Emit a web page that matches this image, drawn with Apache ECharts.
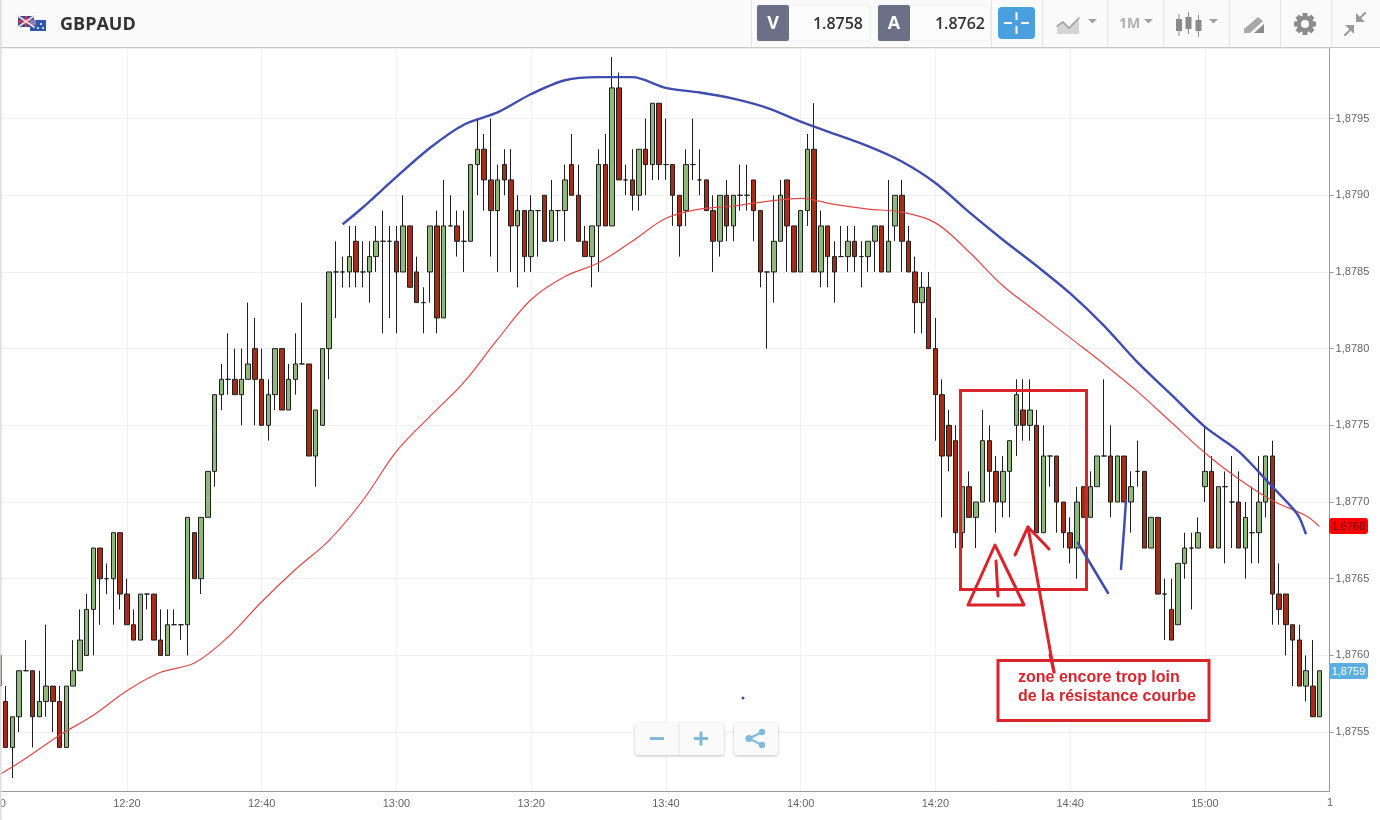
<!DOCTYPE html>
<html><head><meta charset="utf-8"><title>GBPAUD</title>
<style>html,body{margin:0;padding:0;background:#fff}#c{width:1380px;height:820px}</style>
<script src="https://cdn.jsdelivr.net/npm/echarts@6/dist/echarts.min.js"></script></head>
<body><div id="c"></div><script>
// prices below are written as points: 8760 means 1.8760. Index 0 is 12:00, one candle per minute.
const opens=[null,8760,8757,8754,8756,8759,8759,8756,8757,8758,8757,8754,8758,8759,8760,8763,8767,8765,8765,8768,
8764,8762,8761,8764,8764,8761,8760,8762,8762,8762,8768,8765,8769,8772,8777,8778,8778,8777,8778,8780,
8778,8775,8777,8780,8776,8778,8779,8779,8773,8775,8780,8785,8785,8785,8787,8785,8785,8786,8787,8787,
8787,8785,8788,8785,8783,8785,8788,8782,8788,8788,8787,8787,8792,8793,8791,8789,8792,8791,8788,8789,
8786,8789,8790,8787,8789,8789,8792,8790,8787,8786,8788,8792,8788,8797,8791,8791,8790,8793,8792,8796,
8792,8792,8790,8789,8792,8791,8791,8789,8787,8790,8788,8790,8790,8791,8789,8785,8785,8787,8791,8788,
8785,8789,8793,8785,8788,8786,8786,8786,8787,8786,8786,8787,8788,8785,8788,8790,8787,8785,8783,8784,
8780,8777,8775,8774,8768,8771,8769,8770,8774,8772,8770,8772,8775,8776,8775,8775,8768,8773,8773,8770,
8768,8767,8771,8769,8771,8773,8773,8770,8773,8770,8772,8772,8767,8769,8764,8763,8762,8766,8767,8767,
8771,8772,8767,8771,8770,8770,8767,8768,8768,8770,8773,8764,8764,8762,8761,8758,8758,8756];
const closes=[null,8758,8754,8756,8759,8759,8756,8757,8758,8757,8754,8758,8759,8761,8763,8767,8765,8765,8768,8764,
8762,8761,8764,8764,8761,8760,8762,8762,8762,8769,8765,8769,8772,8777,8778,8778,8777,8778,8779,8778,
8775,8777,8780,8776,8778,8779,8779,8773,8776,8780,8785,8785,8785,8786,8785,8785,8786,8787,8787,8787,
8785,8788,8784,8783,8783,8788,8782,8788,8788,8787,8787,8792,8793,8791,8789,8791,8791,8788,8789,8786,
8789,8789,8787,8789,8789,8791,8790,8787,8786,8788,8792,8788,8797,8791,8791,8790,8793,8792,8796,8792,
8792,8790,8788,8792,8792,8791,8789,8787,8790,8788,8790,8790,8790,8789,8785,8785,8787,8790,8788,8785,
8789,8793,8785,8788,8786,8785,8786,8787,8786,8786,8787,8788,8785,8787,8790,8787,8785,8783,8784,8780,
8777,8773,8773,8768,8771,8769,8770,8774,8772,8770,8772,8774,8777,8775,8776,8768,8773,8773,8770,8768,
8767,8770,8769,8771,8773,8773,8770,8773,8770,8771,8772,8767,8769,8764,8764,8761,8766,8767,8767,8768,
8772,8767,8771,8771,8770,8767,8769,8768,8770,8773,8764,8763,8762,8761,8758,8759,8756,8759];
const lows=[null,8758,8754,8752,8755,8759,8754,8756,8756,8755,8754,8754,8758,8759,8760,8760,8762,8764,8762,8763,
8762,8761,8761,8763,8761,8760,8760,8762,8761,8760,8765,8764,8769,8771,8776,8777,8777,8775,8778,8775,
8775,8774,8776,8776,8776,8777,8779,8773,8771,8775,8778,8782,8784,8784,8784,8784,8783,8785,8781,8782,
8781,8785,8784,8783,8781,8783,8781,8782,8788,8786,8785,8787,8790,8789,8786,8785,8790,8785,8784,8785,
8785,8786,8787,8787,8787,8787,8790,8787,8786,8784,8785,8788,8788,8791,8790,8789,8789,8790,8791,8791,
8791,8788,8786,8788,8791,8790,8789,8785,8786,8787,8787,8789,8789,8787,8784,8780,8783,8787,8785,8785,
8785,8788,8785,8784,8784,8783,8786,8785,8785,8784,8785,8785,8785,8785,8787,8785,8785,8781,8781,8780,
8774,8769,8772,8767,8767,8769,8767,8770,8770,8768,8769,8769,8773,8774,8774,8768,8768,8771,8768,8767,
8766,8765,8769,8769,8771,8773,8769,8770,8770,8768,8771,8767,8767,8764,8761,8761,8762,8765,8763,8767,
8770,8767,8767,8766,8767,8767,8765,8766,8766,8769,8762,8762,8760,8758,8758,8757,8756,8756];
const highs=[null,8760,8758,8756,8759,8761,8759,8759,8762,8758,8758,8758,8761,8763,8764,8767,8767,8766,8768,8768,
8765,8763,8764,8764,8764,8763,8763,8763,8762,8769,8768,8769,8772,8777,8779,8781,8780,8780,8783,8782,
8780,8778,8780,8780,8779,8781,8783,8779,8776,8780,8785,8787,8786,8788,8788,8787,8787,8788,8789,8788,
8788,8790,8788,8786,8784,8788,8789,8791,8790,8789,8789,8792,8795,8794,8795,8792,8793,8793,8790,8789,
8790,8789,8790,8791,8789,8792,8794,8792,8788,8788,8793,8794,8799,8798,8792,8793,8793,8795,8796,8796,
8795,8792,8790,8793,8795,8793,8791,8790,8790,8791,8790,8792,8792,8791,8789,8785,8790,8791,8791,8788,
8789,8794,8796,8789,8788,8787,8788,8788,8788,8787,8787,8788,8788,8791,8790,8791,8788,8786,8785,8785,
8782,8778,8776,8775,8771,8772,8770,8776,8775,8773,8773,8774,8778,8778,8778,8776,8775,8773,8773,8770,
8769,8771,8771,8772,8773,8778,8775,8773,8773,8772,8774,8772,8769,8769,8765,8765,8766,8768,8768,8769,
8775,8773,8771,8772,8773,8772,8770,8771,8773,8773,8774,8766,8764,8762,8762,8760,8761,8759];
// moving averages at these minute indexes
const redAt=[1,5,10,15,20,25,30,35,40,45,50,55,60,65,70,75,80,85,90,95,100,105,110,115,120,125,130,135,140,145,150,155,160,165,170,175,180,185,190,195,197];
const redVal=[8752.2,8753.3,8754.75,8756.1,8757.7,8758.85,8759.5,8761.2,8763.5,8765.6,8767.5,8770.1,8773.3,8775.6,8777.8,8780.6,8783.2,8784.7,8785.6,8787,8788.45,8789.1,8789.3,8789.6,8789.75,8789.4,8789.1,8788.9,8788.25,8786.3,8784.15,8782.4,8780.7,8779.05,8777.2,8775.2,8773.2,8771.5,8770.05,8769.1,8768.44];
const blueAt=[52,55,60,65,70,75,80,85,90,95,100,105,110,115,120,125,130,135,140,145,150,155,160,165,170,175,180,185,190,193,194,195];
const blueVal=[8788.06,8789.2,8791.2,8793.1,8794.6,8795.36,8796.6,8797.5,8797.74,8797.67,8797.05,8796.73,8796.27,8795.68,8794.84,8794.05,8793.15,8792.23,8790.8,8788.9,8787.08,8785.45,8783.62,8781.54,8779.1,8777,8774.9,8773.26,8771,8769.6,8769,8767.9];
const categories=[];
for(let m=0;m<199;m++){const h=12+Math.floor(m/60),mm=m%60;categories.push(h+':'+(mm<10?'0':'')+mm);}
const price=v=>v==null?null:+(1+v/10000).toFixed(5);
const candles=opens.map((o,i)=>o==null?'-':[price(o),price(closes[i]),price(lows[i]),price(highs[i])]);
const every20=i=>i%20===0;
const FONT='"Liberation Sans",Arial,sans-serif',UI='"Open Sans",sans-serif';
const ink='#d9242c',pen='#3f4db0',ico='#a8a8a8';
const R=(x,y,w,h,fill,extra)=>Object.assign({type:'rect',silent:true,z:50,shape:{x,y,width:w,height:h,r:(extra&&extra.r)||0},style:Object.assign({fill},extra&&extra.style)},{});
const T=(x,y,text,size,fill,weight,align,family)=>({type:'text',silent:true,z:52,x,y,style:{text,fontSize:size,fill,fontWeight:weight||'normal',fontFamily:family||UI,align:align||'left',verticalAlign:'middle'}});
const P=(pts,stroke,w)=>({type:'polyline',silent:true,z:51,shape:{points:pts},style:{stroke,lineWidth:w,fill:null,lineJoin:'round',lineCap:'round'}});
const G=(pts,fill)=>({type:'polygon',silent:true,z:51,shape:{points:pts},style:{fill}});
const C=(x,y,r,fill)=>({type:'circle',silent:true,z:52,shape:{cx:x,cy:y,r},style:{fill}});
const tri=(x,y)=>G([[x,y],[x+9,y],[x+4.5,y+4.5]],'#a0a0a0');
const els=[
 R(0,0,1380,47,'#fafafa'),R(0,47,1380,1,'#c9c9c9'),
 {type:'rect',silent:true,z:60,shape:{x:0,y:0,width:3,height:820},style:{fill:{type:'linear',x:0,y:0,x2:1,y2:0,colorStops:[{offset:0,color:'#d6d6d6'},{offset:1,color:'rgba(230,230,230,0)'}]}}},
 // flags
 R(18,16,16,11,'#3a4a94'),P([[18,16],[34,27]],'#f0d8dc',2),P([[34,16],[18,27]],'#f0d8dc',2),R(25,16,2,11,'#d8344a'),R(18,20.5,16,2,'#d8344a'),
 R(30,20,16,11,'#2f56ac'),R(30,20,6,5,'#8a7fb8'),C(41,24,1,'#fff'),C(43,28,1,'#fff'),C(38,28,1,'#fff'),
 T(60,25,'GBPAUD',18,'#333333','bold'),
 // quote boxes
 R(751,0,1,47,'#e4e4e4'),R(991,0,1,47,'#e4e4e4'),R(1042,0,1,47,'#e4e4e4'),R(1107,0,1,47,'#e4e4e4'),R(1163,0,1,47,'#e4e4e4'),R(1229,0,1,47,'#e4e4e4'),R(1280,0,1,47,'#e4e4e4'),R(1331,0,1,47,'#e4e4e4'),
 R(757,5,113,36,'#fbfbfb',{r:2,style:{stroke:'#eeeeee',lineWidth:1}}),R(757,5,32,36,'#6c7086',{r:2}),
 R(878,5,112,36,'#fbfbfb',{r:2,style:{stroke:'#eeeeee',lineWidth:1}}),R(878,5,32,36,'#6c7086',{r:2}),
 T(773,24,'V',18,'#ffffff','bold','center'),T(894,24,'A',18,'#ffffff','bold','center'),
 T(863,24,'1.8758',16,'#333333','600','right'),T(985,24,'1.8762',16,'#333333','600','right'),
 R(998,7,37,32,'#4a9fde',{r:4}),R(1015.5,12,2,8,'#fff'),R(1015.5,26,2,8,'#fff'),R(1004,22,8,2,'#fff'),R(1021,22,8,2,'#fff'),
 // chart type icon
 G([[1057,34],[1057,25],[1063,21],[1069,28],[1079,19],[1079,34]],'#d4d4d4'),P([[1057,26],[1063,22],[1069,28],[1079,18]],'#9a9a9a',1.5),tri(1088,19),
 T(1119,24,'1M',14,'#b0b0b0','bold'),tri(1144,19),
 // candle icon
 R(1178.5,14,1,22,'#8a8a8a'),R(1176,19,6,12,'#8a8a8a'),R(1188,12,1,22,'#8a8a8a'),R(1185.5,17,6,12,'#8a8a8a'),R(1198,15,1,22,'#8a8a8a'),R(1195.5,20,6,11,'#8a8a8a'),tri(1209,19),
 // drawing icon
 G([[1244,29],[1258,17],[1263,21],[1250,33],[1244,33]],ico),G([[1254,33],[1264,24],[1264,33]],'#8a8a8a'),
 // gear
 {type:'group',silent:true,z:52,children:[0,45,90,135].map(a=>({type:'rect',silent:true,z:52,x:1305,y:24,rotation:a*Math.PI/180,shape:{x:-2.5,y:-11,width:5,height:22},style:{fill:'#8c8c8c'}}))},
 C(1305,24,8.5,'#8c8c8c'),C(1305,24,4,'#fafafa'),
 // compress icon
 P([[1345,35],[1352,28]],'#999',2),G([[1345,25],[1354,25],[1354,34]],'#999'),
 P([[1365,13],[1358,20]],'#999',2),G([[1356,13],[1356,22],[1365,22]],'#999'),
 // hand-drawn annotation
 {type:'rect',silent:true,z:40,shape:{x:960.5,y:390.5,width:126,height:199},style:{fill:null,stroke:ink,lineWidth:3}},
 P([[968,605],[995,545],[1024,605],[968,605]],ink,3),P([[996,561],[998,596]],ink,3),
 P([[1015,555],[1028,527],[1049,549]],ink,3),P([[1028,527],[1054,672]],ink,3),
 P([[1078,543],[1108,593]],pen,2.5),P([[1126,500],[1124,530],[1121,569]],pen,2.5),C(743,698,1.5,pen),
 {type:'rect',silent:true,z:40,shape:{x:998,y:660.5,width:211,height:60},style:{fill:'#fff',stroke:ink,lineWidth:3}},
 P([[1050,655],[1054,672]],ink,3),
 T(1018,678,'zone encore trop loin',16,ink,'bold','left',FONT),T(1018,697,'de la résistance courbe',16,ink,'bold','left',FONT),
 // zoom / share buttons
 R(635,723,89,32,'#fafafa',{r:3,style:{shadowBlur:3,shadowColor:'rgba(0,0,0,.25)',shadowOffsetY:1}}),R(678.5,723,1,32,'#e6e6e6'),
 R(734,723,44,32,'#fafafa',{r:3,style:{shadowBlur:3,shadowColor:'rgba(0,0,0,.25)',shadowOffsetY:1}}),
 R(650,737,14,3,'#7fb9e0'),R(694,737,14,3,'#7fb9e0'),R(699.5,731.5,3,14,'#7fb9e0'),
 P([[762,732],[749,738.5],[762,745]],'#7fb9e0',2),C(762,732,3.2,'#7fb9e0'),C(749,738.5,3.6,'#7fb9e0'),C(762,745,3.2,'#7fb9e0'),
 // price tags
 R(1329,518,39,16,'#ff0000',{r:3}),T(1348.5,526.5,'1,8768',11,'#6a0000','normal','center',FONT),
 R(1329,663,39,16,'#5aaee0',{r:3}),T(1348.5,671.5,'1,8759',11,'#ffffff','normal','center',FONT),
 T(1327,803,'1',11,'#666666','normal','left',FONT)
];
const chart=echarts.init(document.getElementById('c'),null,{renderer:'canvas'});
chart.setOption({
 animation:false,backgroundColor:'#ffffff',
 grid:{left:-11.17,right:50.4,top:48,bottom:29,containLabel:false,outerBoundsMode:'none'},
 xAxis:{type:'category',data:categories,boundaryGap:true,
  axisLine:{lineStyle:{color:'#999999',width:1}},
  axisTick:{alignWithLabel:true,interval:every20,length:4,lineStyle:{color:'#999999'}},
  axisLabel:{interval:every20,color:'#666666',fontSize:11,fontFamily:FONT,margin:7,showMinLabel:true,hideOverlap:false},
  splitLine:{show:true,interval:every20,alignWithLabel:true,lineStyle:{color:'#f0f0f0',width:1}}},
 yAxis:{type:'value',position:'right',scale:true,min:1.875116,max:1.87996,minInterval:0.0005,maxInterval:0.0005,splitNumber:10,
  axisLine:{show:true,lineStyle:{color:'#999999',width:1}},
  axisTick:{show:true,length:4,lineStyle:{color:'#999999'}},
  axisLabel:{color:'#666666',fontSize:11,fontFamily:FONT,margin:6,showMinLabel:false,showMaxLabel:false,
   formatter:v=>Math.abs(v*2000-Math.round(v*2000))<1e-6?v.toFixed(4).replace('.',','):''},
  splitLine:{show:true,lineStyle:{color:'#f0f0f0',width:1}}},
 series:[
  {type:'candlestick',name:'GBPAUD',data:candles,barWidth:5,
   itemStyle:{color:'#8fb87c',color0:'#a52c16',borderColor:'#1f1f1f',borderColor0:'#1f1f1f',borderColorDoji:'#1f1f1f',borderWidth:1}},
  {type:'line',name:'MA rouge',data:redAt.map((m,i)=>[m,price(redVal[i])]),symbol:'none',smooth:0.35,lineStyle:{color:'#e04848',width:1.2},z:3},
  {type:'line',name:'MA bleue',data:blueAt.map((m,i)=>[m,price(blueVal[i])]),symbol:'none',smooth:0.3,lineStyle:{color:pen,width:2.4},z:4}
 ],
 graphic:{elements:els}
});
</script></body></html>
